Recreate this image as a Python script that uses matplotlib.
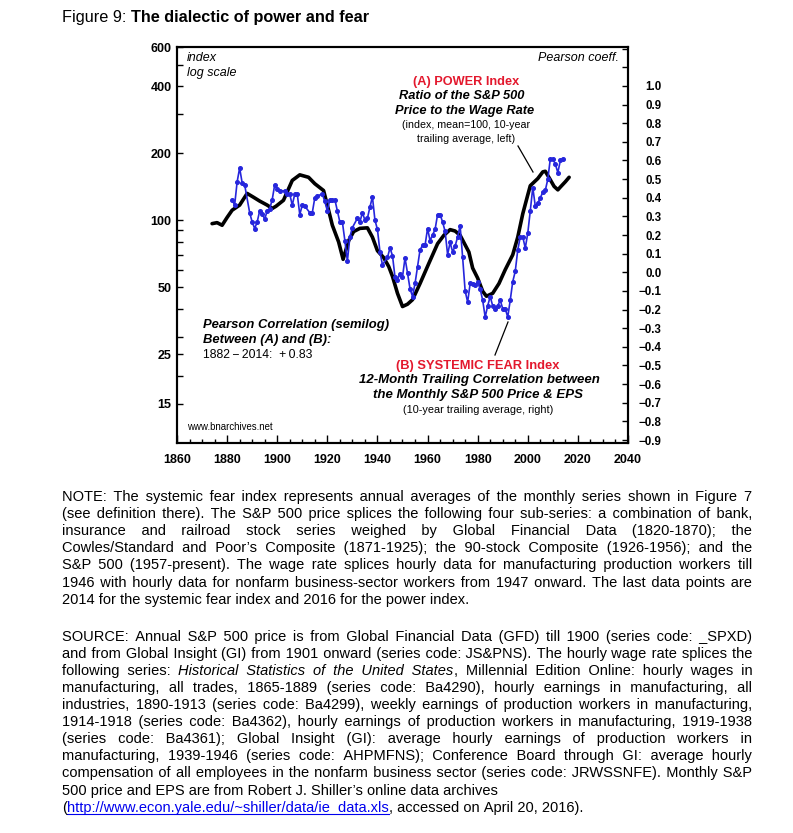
import re
import itertools
import matplotlib
matplotlib.use('Agg')
import matplotlib.pyplot as plt
from matplotlib.ticker import FixedLocator, FixedFormatter, NullFormatter, MultipleLocator
from matplotlib.lines import Line2D

plt.rcParams['font.family'] = ['Liberation Sans', 'DejaVu Sans']

#-----Data------------------------------------------------------------------
# (A) power index: S&P 500 / wage rate, 10-yr trailing avg, left log axis
power_years = [1874, 1876, 1878, 1880, 1882, 1885, 1888, 1890.5, 1893, 1896,
               1898, 1899.5, 1902.5, 1906, 1909, 1912.5, 1915, 1918.5, 1920,
               1922, 1924.5, 1926.3, 1928.5, 1930.5, 1933, 1936, 1938, 1940,
               1942.5, 1944.5, 1946, 1948, 1950, 1952, 1954, 1957, 1960.5,
               1964, 1966.5, 1969, 1971, 1973, 1976.5, 1978, 1980, 1982,
               1983.5, 1986, 1988.5, 1991, 1994, 1996, 1998, 2000, 2001, 2004,
               2006, 2007, 2009, 2010.5, 2012, 2013, 2015, 2016.5]
power_vals = [96.6, 97.6, 95, 103, 111, 117, 132, 127, 122, 117,
              113, 115.6, 123, 151, 160, 156, 146, 136, 117,
              95, 80, 66.8, 81, 89, 92, 92.5, 84, 73,
              68, 62, 56, 47, 41, 42, 44, 52, 64,
              78.5, 85.6, 90.8, 89.5, 85.6, 72, 61, 55, 48,
              45.6, 47, 52, 60, 70, 84, 107, 130, 143, 154,
              165, 166, 152, 142, 137, 141, 149, 156]

# (B) systemic fear index: 12-month trailing correlation, right axis
fear_years = [1882, 1883, 1884, 1885, 1886, 1887, 1889, 1890, 1891, 1892,
              1893, 1894, 1895, 1896, 1897, 1898, 1899, 1900, 1901, 1903,
              1904, 1905, 1906, 1907, 1908, 1909, 1910, 1911, 1913, 1914,
              1915, 1916, 1918, 1919, 1920, 1921, 1922, 1923, 1924, 1925,
              1926, 1927, 1928, 1929, 1930, 1932, 1933, 1934, 1935, 1936,
              1937, 1938, 1939, 1940, 1941, 1942, 1944, 1945, 1946, 1947,
              1948, 1949, 1950, 1951, 1952, 1953, 1954, 1955, 1956, 1957,
              1958, 1959, 1960, 1961, 1962, 1963, 1964, 1965, 1966, 1967,
              1968, 1969, 1970, 1971, 1972, 1973, 1974, 1975, 1976, 1977,
              1978, 1979, 1980, 1981, 1982, 1983, 1984, 1985, 1986, 1987,
              1988, 1989, 1990, 1991, 1992, 1993, 1994, 1995, 1996, 1997,
              1998, 1999, 2000, 2001, 2002, 2003, 2004, 2005, 2006, 2007,
              2008, 2009, 2010, 2011, 2012, 2013, 2014]
fear_vals = [0.39, 0.36, 0.485, 0.56, 0.48, 0.47, 0.32, 0.27, 0.235, 0.27,
             0.33, 0.315, 0.285, 0.33, 0.34, 0.39, 0.47, 0.445, 0.437, 0.437,
             0.42, 0.42, 0.36, 0.42, 0.42, 0.31, 0.36, 0.355, 0.32, 0.32,
             0.40, 0.41, 0.42, 0.38, 0.33, 0.39, 0.39, 0.39, 0.33, 0.27,
             0.27, 0.17, 0.06, 0.19, 0.24, 0.29, 0.27, 0.32, 0.28, 0.29,
             0.35, 0.405, 0.28, 0.23, 0.11, 0.04, 0.08, 0.13, 0.09, -0.025,
             -0.04, -0.007, -0.025, 0.077, -0.004, -0.088, -0.13, -0.06, 0.03, 0.12,
             0.145, 0.145, 0.235, 0.17, 0.2, 0.23, 0.31, 0.31, 0.27, 0.22,
             0.095, 0.16, 0.11, 0.14, 0.19, 0.25, 0.08, -0.1, -0.16, -0.06,
             -0.065, -0.07, -0.05, -0.09, -0.15, -0.24, -0.18, -0.13, -0.18, -0.195,
             -0.18, -0.15, -0.195, -0.195, -0.24, -0.15, -0.05, 0.005, 0.12, 0.19,
             0.19, 0.13, 0.21, 0.33, 0.455, 0.355, 0.37, 0.40, 0.43, 0.44,
             0.50, 0.61, 0.61, 0.58, 0.535, 0.60, 0.61]

left_ticks = [15, 25, 50, 100, 200, 400, 600]
left_minor = [20, 30, 40, 60, 70, 80, 90, 300, 500]
right_ticks = [round(-0.9 + 0.1 * i, 1) for i in range(20)]
x_ticks = list(range(1860, 2041, 20))

note_lines = [
    "NOTE: The systemic fear index represents annual averages of the monthly series shown in Figure 7",
    "(see definition there). The S&P 500 price splices the following four sub-series: a combination of bank,",
    "insurance and railroad stock series weighed by Global Financial Data (1820-1870); the",
    "Cowles/Standard and Poor\u2019s Composite (1871-1925); the 90-stock Composite (1926-1956); and the",
    "S&P 500 (1957-present). The wage rate splices hourly data for manufacturing production workers till",
    "1946 with hourly data for nonfarm business-sector workers from 1947 onward. The last data points are",
    "2014 for the systemic fear index and 2016 for the power index.",
]
note_justify = [True] * 6 + [False]

source_lines = [
    "SOURCE: Annual S&P 500 price is from Global Financial Data (GFD) till 1900 (series code: _SPXD)",
    "and from Global Insight (GI) from 1901 onward (series code: JS&PNS). The hourly wage rate splices the",
    "following series: <i>Historical Statistics of the United States</i>, Millennial Edition Online: hourly wages in",
    "manufacturing, all trades, 1865-1889 (series code: Ba4290), hourly earnings in manufacturing, all",
    "industries, 1890-1913 (series code: Ba4299), weekly earnings of production workers in manufacturing,",
    "1914-1918 (series code: Ba4362), hourly earnings of production workers in manufacturing, 1919-1938",
    "(series code: Ba4361); Global Insight (GI): average hourly earnings of production workers in",
    "manufacturing, 1939-1946 (series code: AHPMFNS); Conference Board through GI: average hourly",
    "compensation of all employees in the nonfarm business sector (series code: JRWSSNFE). Monthly S&P",
    "500 price and EPS are from Robert J. Shiller\u2019s online data archives",
    "(<u>http://www.econ.yale.edu/~shiller/data/ie_data.xls</u>, accessed on April 20, 2016).",
]
source_justify = [True] * 9 + [False, False]

#-----Figure and axes-------------------------------------------------------
W, H = 793, 833
fig = plt.figure(figsize=(W / 100, H / 100), dpi=100)

def fx(x):
    return x / W

def fy(y):
    return 1 - y / H

RED = '#e3182d'
BLUE = '#2626dc'

ax = fig.add_axes([fx(177), fy(443), (628 - 177) / W, (443 - 47) / H])
ax2 = ax.twinx()

ax.plot(power_years, power_vals, color='black', lw=2.6, solid_capstyle='round',
        solid_joinstyle='round')
ax2.plot(fear_years, fear_vals, color=BLUE, lw=1.2, marker='o', ms=2.6,
         mec=BLUE, mfc=BLUE)

ax.set_yscale('log')
ax.set_ylim(10, 600)
ax.set_xlim(1860, 2040)
ax.yaxis.set_major_locator(FixedLocator(left_ticks))
ax.yaxis.set_major_formatter(FixedFormatter([str(v) for v in left_ticks]))
ax.yaxis.set_minor_locator(FixedLocator(left_minor))
ax.yaxis.set_minor_formatter(NullFormatter())
ax.xaxis.set_major_locator(FixedLocator(x_ticks))
ax.xaxis.set_minor_locator(MultipleLocator(5))
ax.tick_params(axis='y', which='both', direction='in', length=4, width=1,
               labelsize=9, pad=4, right=False)
ax.tick_params(axis='x', which='major', direction='in', length=6, width=1,
               labelsize=9, pad=8)
ax.tick_params(axis='x', which='minor', direction='in', length=3, width=1)

ax2.set_ylim(-0.916, 1.209)
ax2.yaxis.set_major_locator(FixedLocator(right_ticks))
ax2.yaxis.set_major_formatter(FixedFormatter(
    [('\u2212' if v < 0 else '') + '%.1f' % abs(v) for v in right_ticks]))
ax2.yaxis.set_minor_locator(FixedLocator([1.1, 1.2]))
ax2.tick_params(axis='y', which='both', direction='in', length=4, width=1,
                labelsize=8.3, pad=24)
for lab in ax2.get_yticklabels():
    lab.set_horizontalalignment('right')
    lab.set_fontweight('bold')
for lab in ax.get_yticklabels() + ax.get_xticklabels():
    lab.set_fontweight('bold')

for a in (ax, ax2):
    for s in a.spines.values():
        s.set_linewidth(1.5)

#-----Annotations inside the plot-------------------------------------------
def ftext(x, y, s, **kw):
    kw.setdefault('va', 'center')
    fig.text(fx(x), fy(y), s, **kw)

BI = dict(weight='bold', style='italic')
ftext(187, 58, 'index', fontsize=9, style='italic', ha='left')
ftext(187, 73, 'log scale', fontsize=9, style='italic', ha='left')
ftext(619, 58, 'Pearson coeff.', fontsize=9, style='italic', ha='right')

ftext(466, 82, '(A) POWER Index', fontsize=9.2, weight='bold', color=RED, ha='center')
ftext(462, 96, 'Ratio of the S&P 500', fontsize=9.3, ha='center', **BI)
ftext(465, 111, 'Price to the Wage Rate', fontsize=9.3, ha='center', **BI)
ftext(466, 125, '(index, mean=100, 10-year', fontsize=7.7, ha='center')
ftext(466, 139, 'trailing average, left)', fontsize=7.7, ha='center')

ftext(203, 325, 'Pearson Correlation (semilog)', fontsize=9.4, ha='left', **BI)
ftext(203, 340, 'Between (A) and (B):', fontsize=9.4, ha='left', **BI)
ftext(203, 355, '1882\u2009\u2212\u20092014:  +\u20090.83', fontsize=8.7, ha='left')

ftext(478, 366, '(B) SYSTEMIC FEAR Index', fontsize=9.3, weight='bold', color=RED, ha='center')
ftext(479, 380, '12-Month Trailing Correlation between', fontsize=9.5, ha='center', **BI)
ftext(478, 395, 'the Monthly S&P 500 Price & EPS', fontsize=9.5, ha='center', **BI)
ftext(478, 410, '(10-year trailing average, right)', fontsize=7.8, ha='center')

ftext(187, 427, 'www.bnarchives.net', fontsize=6.9, ha='left')

fig.add_artist(Line2D([fx(518), fx(533)], [fy(146), fy(172)], color='black', lw=0.9))
fig.add_artist(Line2D([fx(508), fx(495)], [fy(322), fy(355)], color='black', lw=0.9))

#-----Title------------------------------------------------------------------
r = fig.canvas.get_renderer()
t = fig.text(fx(62), fy(22), 'Figure 9: ', fontsize=11.7, va='baseline')
w = t.get_window_extent(r).width
fig.text(fx(62 + w), fy(22), 'The dialectic of power and fear', fontsize=11.7,
         weight='bold', va='baseline')

#-----Caption, justified; one text per run of same style---------------------
FS = 10.5

def style_kw(st):
    return dict(style='italic' if st == 'i' else 'normal',
                color='#0000ee' if st == 'u' else 'black')

def raw_width(s, st=''):
    tt = fig.text(0, 0, s, fontsize=FS, **style_kw(st))
    ww = tt.get_window_extent(r).width
    tt.remove()
    return ww

def measure(s, st=''):
    # advance width: bracket the string so side bearings count
    return raw_width('|' + s + '|', st) - raw_width('||', st)

SPACE = measure(' ')
THIN = measure('\u2009')
HAIR = measure('\u200a')
gap_opts = []
for ns, nt, nh in itertools.product(range(3), range(4), range(7)):
    if ns + nt + nh:
        gap_opts.append((' ' * ns + '\u2009' * nt + '\u200a' * nh,
                         ns * SPACE + nt * THIN + nh * HAIR))

def parse_words(line):
    words = [[]]
    style = ''
    for tok in re.split(r'(</?[iu]>)', line):
        if tok in ('<i>', '<u>'):
            style = tok[1]
            continue
        if tok in ('</i>', '</u>'):
            style = ''
            continue
        for k, p in enumerate(tok.split(' ')):
            if k > 0:
                words.append([])
            if p:
                words[-1].append((p, style))
    return [wd for wd in words if wd]

def put_line(line, y, justify, x0=62, x1=752):
    words = parse_words(line)
    widths = [[measure(txt, st) for txt, st in wd] for wd in words]
    total = sum(sum(ws) for ws in widths)
    gap = SPACE
    if justify and len(words) > 1:
        gap = (x1 - x0 - total) / (len(words) - 1)
    chunks = []
    x = x0
    for wd, ws in zip(words, widths):
        sx = x
        for k, ((txt, st), ww) in enumerate(zip(wd, ws)):
            if k == 0 and chunks and chunks[-1][0] == st:
                c = chunks[-1]
                need = sx - (c[1] + c[3])
                gs, gw = min(gap_opts, key=lambda g: abs(g[1] - need))
                c[2] += gs + txt
                c[3] += gw + ww
            else:
                chunks.append([st, sx, txt, ww])
            sx += ww
        x += sum(ws) + gap
    for st, cx, s, cw in chunks:
        fig.text(fx(cx), fy(y), s, fontsize=FS, va='baseline', **style_kw(st))
        if st == 'u':
            fig.add_artist(Line2D([fx(cx), fx(cx + cw)], [fy(y + 2)] * 2,
                                  color='#0000ee', lw=0.8))

for i, (ln, j) in enumerate(zip(note_lines, note_justify)):
    put_line(ln, 500.7 + 17.2 * i, j)
for i, (ln, j) in enumerate(zip(source_lines, source_justify)):
    put_line(ln, 640.7 + 17.1 * i, j)

fig.savefig('out.png', dpi=100)
